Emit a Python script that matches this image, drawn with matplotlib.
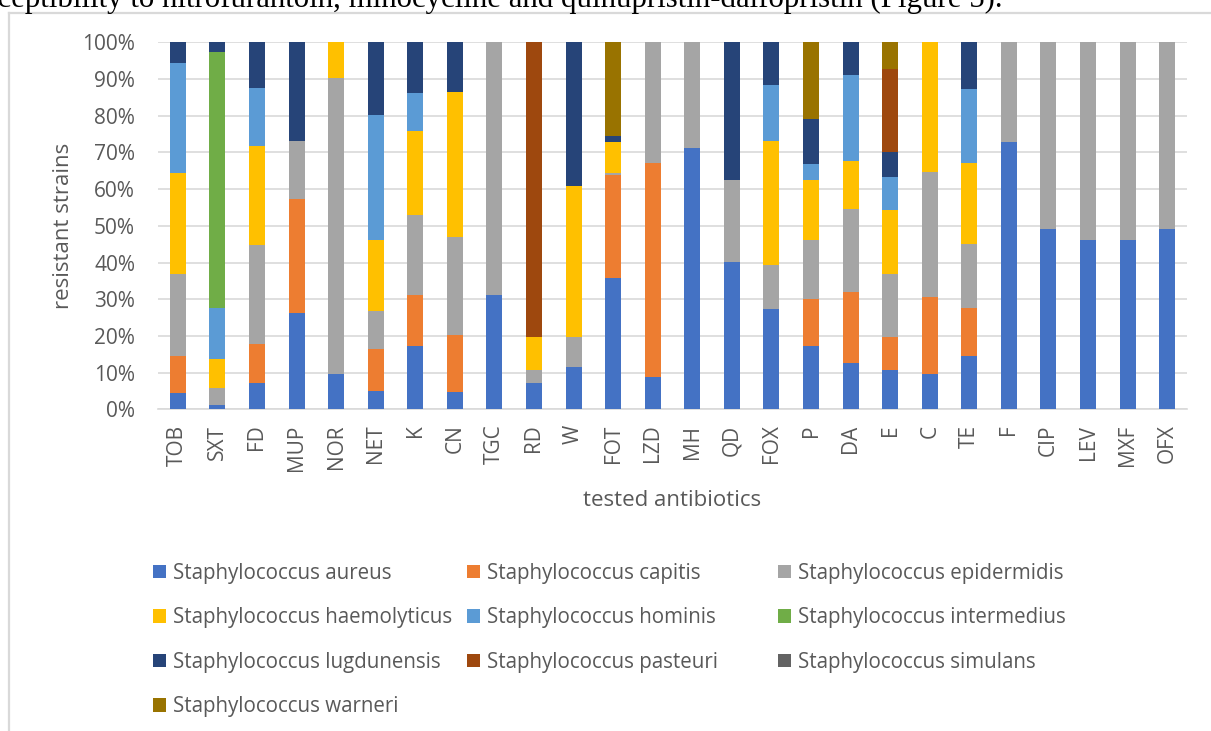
import matplotlib
matplotlib.use("Agg")
import matplotlib.pyplot as plt
from matplotlib.lines import Line2D
import numpy as np

# Antibiotics tested (x axis)
antibiotics = ["TOB", "SXT", "FD", "MUP", "NOR", "NET", "K", "CN", "TGC", "RD",
               "W", "FOT", "LZD", "MH", "QD", "FOX", "P", "DA", "E", "C",
               "TE", "F", "CIP", "LEV", "MXF", "OFX"]

# Share of resistant strains per species (%), one value per antibiotic
aureus = [4.4, 1.3, 7.3, 26.2, 9.7, 5.1, 17.3, 4.6, 31.1, 7.3,
          11.4, 35.7, 8.7, 71.3, 40.2, 27.2, 17.3, 12.5, 10.7, 9.7,
          14.4, 72.9, 49.2, 46.0, 46.0, 49.2]
capitis = [10.0, 0, 10.6, 31.0, 0, 11.4, 13.8, 15.7, 0, 0,
           0, 28.2, 58.3, 0, 0, 0, 12.8, 19.5, 8.9, 21.0,
           13.3, 0, 0, 0, 0, 0]
epidermidis = [22.6, 4.6, 26.9, 16.0, 80.5, 10.4, 21.8, 26.7, 68.9, 3.5,
               8.3, 0.5, 33.0, 28.7, 22.2, 12.0, 16.0, 22.5, 17.4, 33.9,
               17.3, 27.1, 50.8, 54.0, 54.0, 50.8]
haemolyticus = [27.5, 7.8, 26.9, 0, 9.8, 19.1, 23.0, 39.4, 0, 9.0,
                41.2, 8.5, 0, 0, 0, 33.9, 16.4, 13.2, 17.3, 35.4,
                22.2, 0, 0, 0, 0, 0]
hominis = [29.9, 14.0, 15.9, 0, 0, 34.2, 10.3, 0, 0, 0,
           0, 0, 0, 0, 0, 15.3, 4.3, 23.5, 9.0, 0,
           20.1, 0, 0, 0, 0, 0]
intermedius = [0, 69.7, 0, 0, 0, 0, 0, 0, 0, 0,
               0, 0, 0, 0, 0, 0, 0, 0, 0, 0,
               0, 0, 0, 0, 0, 0]
lugdunensis = [5.6, 2.6, 12.4, 26.8, 0, 19.8, 13.8, 13.6, 0, 0,
               39.1, 1.6, 0, 0, 37.6, 11.6, 12.2, 8.8, 6.9, 0,
               12.7, 0, 0, 0, 0, 0]
pasteuri = [0, 0, 0, 0, 0, 0, 0, 0, 0, 80.2,
            0, 0, 0, 0, 0, 0, 0, 0, 22.4, 0,
            0, 0, 0, 0, 0, 0]
simulans = [0, 0, 0, 0, 0, 0, 0, 0, 0, 0,
            0, 0, 0, 0, 0, 0, 0, 0, 0, 0,
            0, 0, 0, 0, 0, 0]
warneri = [0, 0, 0, 0, 0, 0, 0, 0, 0, 0,
           0, 25.5, 0, 0, 0, 0, 21.0, 0, 7.4, 0,
           0, 0, 0, 0, 0, 0]

species = ["Staphylococcus aureus", "Staphylococcus capitis",
           "Staphylococcus epidermidis", "Staphylococcus haemolyticus",
           "Staphylococcus hominis", "Staphylococcus intermedius",
           "Staphylococcus lugdunensis", "Staphylococcus pasteuri",
           "Staphylococcus simulans", "Staphylococcus warneri"]
series = [aureus, capitis, epidermidis, haemolyticus, hominis,
          intermedius, lugdunensis, pasteuri, simulans, warneri]
colors = ["#4472C4", "#ED7D31", "#A5A5A5", "#FFC000", "#5B9BD5",
          "#70AD47", "#264478", "#9E480E", "#636363", "#997300"]

TXT = "#595959"
GRID = "#D9D9D9"
W, H = 1211, 731

plt.rcParams["font.family"] = ["Open Sans", "DejaVu Sans"]

fig = plt.figure(figsize=(W / 100, H / 100), dpi=100)

# light frame around the chart object
fig.add_artist(Line2D([8.5 / W, 8.5 / W], [0, 1 - 13 / H], color=GRID,
                      lw=1.6, transform=fig.transFigure))
fig.add_artist(Line2D([8.5 / W, 1], [1 - 13 / H, 1 - 13 / H], color=GRID,
                      lw=1.6, transform=fig.transFigure))

# running text of the page above the chart
fig.text(1003 / W, 1 - 7 / H,
         "susceptibility to nitrofurantoin, minocycline and "
         "quinupristin-dalfopristin (Figure 5).",
         ha="right", va="baseline", fontsize=22.2,
         family=["Liberation Serif", "DejaVu Serif"], color="black")

ax = fig.add_axes([158 / W, 1 - 409.3 / H, (1187 - 158) / W, (409.3 - 42.3) / H])

data = np.array(series, dtype=float)
pct = data / data.sum(axis=0) * 100
x = np.arange(len(antibiotics))
bottom = np.zeros(len(antibiotics))
handles = []
for vals, name, col in zip(pct, species, colors):
    bars = ax.bar(x, vals, bottom=bottom, width=0.404, color=col, label=name,
                  zorder=3)
    handles.append(bars)
    bottom += vals

ax.set_xlim(-0.5, len(antibiotics) - 0.5)
ax.set_ylim(0, 100)
ax.set_yticks(np.arange(0, 101, 10))
ax.set_yticklabels([f"{v}%" for v in range(0, 101, 10)])
ax.set_xticks(x)
ax.set_xticklabels(antibiotics, rotation=90)
ax.tick_params(axis="y", length=0, pad=16.5, labelsize=15, labelcolor=TXT)
ax.tick_params(axis="x", length=0, pad=11, labelsize=15, labelcolor=TXT)
ax.yaxis.grid(True, color=GRID, lw=1.2, zorder=0)
ax.set_axisbelow(True)
for s in ["left", "right", "top"]:
    ax.spines[s].set_visible(False)
ax.spines["bottom"].set_color(GRID)
ax.spines["bottom"].set_linewidth(1.2)

ax.set_ylabel("resistant strains", fontsize=16, color=TXT)
ax.yaxis.set_label_coords((74 - 158) / 1029, 0.5)
ax.set_xlabel("tested antibiotics", fontsize=16, color=TXT)
ax.xaxis.set_label_coords(0.5, (409.3 - 490) / 367)

# legend: three columns filled row by row
col_x = [153, 467, 778]
for c in range(3):
    idx = list(range(c, len(species), 3))
    fig.legend([handles[i] for i in idx], [species[i] for i in idx],
               loc="upper left", bbox_to_anchor=(col_x[c] / W, 1 - 563 / H),
               frameon=False, fontsize=14.8, labelcolor=TXT,
               handlelength=0.63, handleheight=0.63, handletextpad=0.33,
               labelspacing=1.14, borderpad=0, borderaxespad=0)

fig.savefig("out.png", dpi=100)
